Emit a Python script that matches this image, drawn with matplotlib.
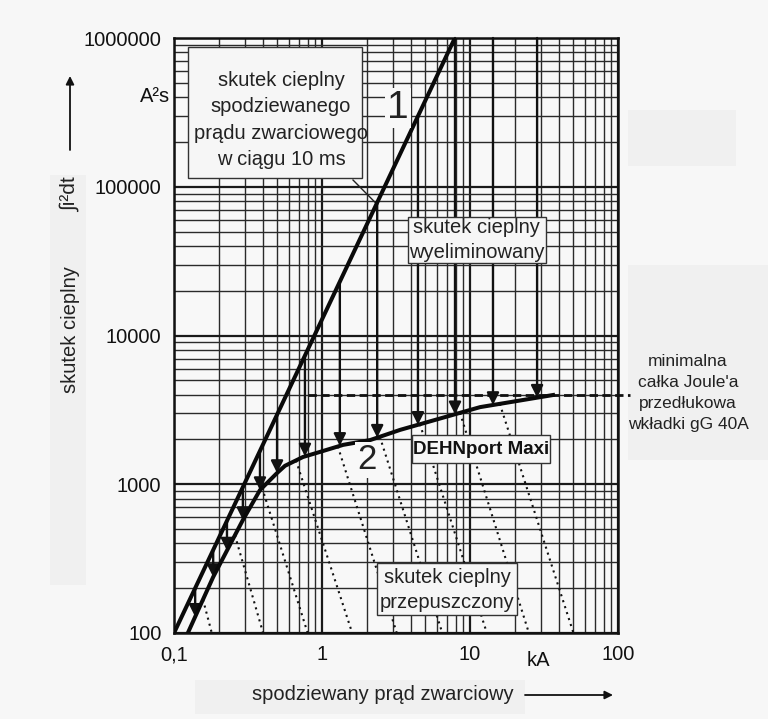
import numpy as np
import matplotlib.pyplot as plt
from matplotlib.ticker import FixedLocator, LogLocator, NullFormatter
from matplotlib.patches import Rectangle

plt.rcParams['font.family'] = ['Liberation Sans', 'DejaVu Sans']

# prospective short-circuit current (kA) and let-through energy (A^2 s)
prosp_i = [0.1, 7.9]
prosp_w = [100, 1000000]

dehn_i = [0.124, 0.184, 0.292, 0.381, 0.497, 0.562, 0.744, 0.97, 1.39, 2.11, 3.37, 11.7, 36.4]
dehn_w = [100, 238, 575, 914, 1190, 1330, 1525, 1650, 1840, 1980, 2320, 3300, 3980]

joule_i = [0.8, 120]
joule_w = [4000, 4000]

arrow_i = [0.139, 0.184, 0.228, 0.292, 0.381, 0.497, 0.767, 1.32, 2.36, 4.45, 7.92, 14.3, 28.4]

dot_top_i = [0.157, 0.258, 0.394, 0.667, 1.28, 2.46, 4.59, 8.56, 15.9]
dot_bottom_i = [0.18, 0.4, 0.8, 1.6, 3.2, 6.5, 13, 25, 50]

x_ticks = [0.1, 1, 10, 100]
x_ticklabels = ['0,1', '1', '10', '100']
y_ticks = [100, 1000, 10000, 100000, 1000000]
y_ticklabels = ['100', '1000', '10000', '100000', '1000000']


def on_line(xs, px, pw):
    return 10 ** np.interp(np.log10(xs), np.log10(px), np.log10(pw))


def on_prosp(xs):
    lx, lw = np.log10(prosp_i), np.log10(prosp_w)
    k = (lw[1] - lw[0]) / (lx[1] - lx[0])
    return np.minimum(10 ** (lw[0] + k * (np.log10(xs) - lx[0])), 1e6)


W, H = 768, 719
fig = plt.figure(figsize=(W / 100, H / 100), dpi=100, facecolor='#f7f7f7')

# faint panels behind the outer labels
for (x0, y0, w, h) in [(50, 175, 36, 410), (195, 680, 330, 34), (628, 110, 108, 56), (628, 265, 140, 195)]:
    fig.patches.append(Rectangle((x0 / W, 1 - (y0 + h) / H), w / W, h / H,
                                 transform=fig.transFigure, fc='#f0f0f0', ec='none', zorder=-1))

ax = fig.add_axes([174 / W, 1 - 633 / H, 444 / W, 595 / H])
ax.set_facecolor('#f8f8f8')
ax.set_xscale('log')
ax.set_yscale('log')
ax.set_xlim(0.1, 100)
ax.set_ylim(100, 1e6)

ax.xaxis.set_major_locator(FixedLocator(x_ticks))
ax.set_xticklabels(x_ticklabels)
ax.yaxis.set_major_locator(FixedLocator(y_ticks))
ax.set_yticklabels(y_ticklabels)
for a in (ax.xaxis, ax.yaxis):
    a.set_minor_locator(LogLocator(base=10, subs=np.arange(2, 10), numticks=50))
    a.set_minor_formatter(NullFormatter())
ax.tick_params(which='both', length=0, labelsize=14.5, pad=9, colors='#111')
ax.grid(which='major', color='#1a1a1a', lw=1.6)
ax.grid(which='minor', color='#2a2a2a', lw=1.0)
ax.set_axisbelow(True)
for s in ax.spines.values():
    s.set_linewidth(1.8)
    s.set_color('#111')

# dotted let-through lines
top_w = on_line(dot_top_i, dehn_i, dehn_w)
for xt, yt, xb in zip(dot_top_i, top_w, dot_bottom_i):
    ax.plot([xt, xb], [yt, 100], color='#111', lw=1.5, ls=(0, (1, 2.0)), zorder=3)

# arrows from prospective to let-through energy
a_top = on_prosp(arrow_i)
a_bot = on_line(arrow_i, dehn_i, dehn_w)
for xi, y0, y1 in zip(arrow_i, a_top, a_bot):
    ax.annotate('', xy=(xi, y1), xytext=(xi, y0),
                arrowprops=dict(arrowstyle='-|>', lw=1.7, color='#111',
                                mutation_scale=18, shrinkA=0, shrinkB=0),
                zorder=4)

ax.plot(joule_i, joule_w, color='#111', lw=2.0, ls=(0, (3, 1.6)), clip_on=False, zorder=4)
ax.plot(prosp_i, prosp_w, color='#0a0a0a', lw=2.9, zorder=5, solid_capstyle='butt')
ax.plot(dehn_i, dehn_w, color='#0a0a0a', lw=2.9, zorder=5)

# leader from the upper box to curve 1
ax.plot([1.62, 2.36], [111000, 76000], color='#222', lw=1.0, zorder=4)

# label boxes (axes fraction)
boxes = [(0.0315, 0.765, 0.392, 0.220), (0.527, 0.622, 0.311, 0.077),
         (0.536, 0.286, 0.311, 0.047), (0.457, 0.030, 0.315, 0.087)]
for (x0, y0, w, h) in boxes:
    ax.add_patch(Rectangle((x0, y0), w, h, transform=ax.transAxes,
                           fc='#f6f6f6', ec='#333', lw=1.0, zorder=6))

ax.text(0.241, 0.862, 'skutek cieplny\nspodziewanego\nprądu zwarciowego\nw ciągu 10 ms',
        transform=ax.transAxes, ha='center', va='center', fontsize=14.5,
        linespacing=1.5, color='#222', zorder=7)
ax.text(0.682, 0.661, 'skutek cieplny\nwyeliminowany', transform=ax.transAxes,
        ha='center', va='center', fontsize=14.5, linespacing=1.4, color='#222', zorder=7)
ax.text(0.691, 0.309, 'DEHNport Maxi', transform=ax.transAxes, ha='center', va='center',
        fontsize=13.5, fontweight='bold', family=['Liberation Sans Narrow', 'Liberation Sans'],
        color='#111', zorder=7)
ax.text(0.615, 0.072, 'skutek cieplny\nprzepuszczony', transform=ax.transAxes,
        ha='center', va='center', fontsize=14.5, linespacing=1.4, color='#222', zorder=7)

ax.text(3.27, 3.39e5, '1', ha='center', va='center', fontsize=28, color='#222', zorder=7,
        bbox=dict(boxstyle='square,pad=0.05', fc='#f8f8f8', ec='none'))
ax.text(2.01, 1456, '2', ha='center', va='center', fontsize=25, color='#222', zorder=7,
        bbox=dict(boxstyle='square,pad=0.05', fc='#f8f8f8', ec='none'))

ax.text(-0.043, 0.901, 'A²s', transform=ax.transAxes, ha='center', va='center',
        fontsize=14.5, color='#111')
ax.text(0.82, -0.046, 'kA', transform=ax.transAxes, ha='center', va='center',
        fontsize=14.5, color='#111')

fig.text(688 / W, 1 - 393 / H, "minimalna\ncałka Joule'a\nprzedłukowa\nwkładki gG 40A",
         ha='center', va='center', fontsize=12.5, linespacing=1.5, color='#222')

# axis titles with arrows
fig.text(70 / W, 1 - 330 / H, 'skutek cieplny', rotation=90, ha='center', va='center',
         fontsize=14.5, color='#222')
fig.text(70 / W, 1 - 195 / H, '∫i²dt', rotation=90, ha='center', va='center',
         fontsize=15, color='#222')
ax.annotate('', xy=(70 / W, 1 - 76 / H), xytext=(70 / W, 1 - 150 / H), xycoords='figure fraction',
            arrowprops=dict(arrowstyle='-|>', lw=1.3, color='#111', mutation_scale=12,
                            shrinkA=0, shrinkB=0))
fig.text(383 / W, 1 - 695 / H, 'spodziewany prąd zwarciowy', ha='center', va='center',
         fontsize=14.5, color='#222')
ax.annotate('', xy=(613 / W, 1 - 695 / H), xytext=(525 / W, 1 - 695 / H),
            xycoords='figure fraction',
            arrowprops=dict(arrowstyle='-|>', lw=1.3, color='#111', mutation_scale=12,
                            shrinkA=0, shrinkB=0))

fig.savefig('out.png', dpi=100, facecolor=fig.get_facecolor())
